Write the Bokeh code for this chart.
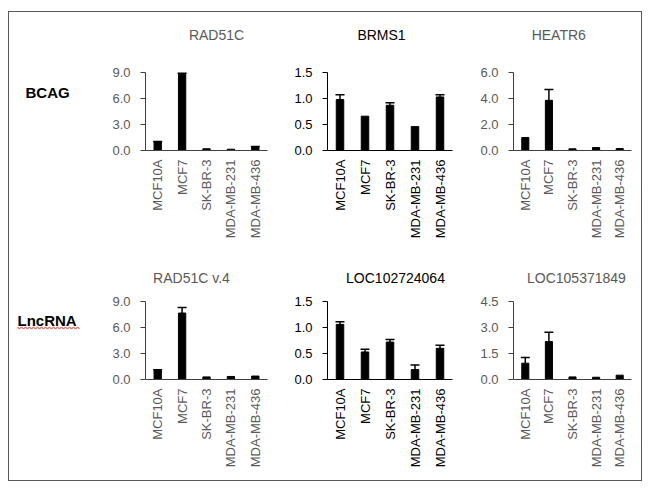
from bokeh.plotting import figure
from bokeh.layouts import row, column
from bokeh.models import (ColumnDataSource, FactorRange, Range1d, FixedTicker,
                          NumeralTickFormatter, Whisker, TeeHead)
from bokeh.core.properties import value
from bokeh.embed import file_html
from bokeh.resources import INLINE
import math

# ---------------- data ----------------
cells = ["MCF10A", "MCF7", "SK-BR-3", "MDA-MB-231", "MDA-MB-436"]

rad51c = [1.0, 8.8, 0.2, 0.15, 0.4]
rad51c_err = [0.05, 0.1, 0.0, 0.0, 0.05]

brms1 = [0.98, 0.66, 0.87, 0.46, 1.03]
brms1_err = [0.09, 0.0, 0.05, 0.0, 0.04]

heatr6 = [1.0, 3.86, 0.13, 0.23, 0.15]
heatr6_err = [0.0, 0.83, 0.0, 0.0, 0.0]

rad51c_v4 = [1.07, 7.67, 0.3, 0.35, 0.4]
rad51c_v4_err = [0.05, 0.63, 0.0, 0.0, 0.0]

loc102724064 = [1.06, 0.53, 0.72, 0.19, 0.6]
loc102724064_err = [0.05, 0.05, 0.05, 0.09, 0.06]

loc105371849 = [0.94, 2.19, 0.15, 0.13, 0.25]
loc105371849_err = [0.33, 0.54, 0.0, 0.0, 0.0]

titles = ["RAD51C", "BRMS1", "HEATR6", "RAD51C v.4", "LOC102724064", "LOC105371849"]
ticks_rad51c = [0, 3, 6, 9]
ticks_brms1 = [0, 0.5, 1.0, 1.5]
ticks_heatr6 = [0, 2, 4, 6]
ticks_rad51c_v4 = [0, 3, 6, 9]
ticks_loc102724064 = [0, 0.5, 1.0, 1.5]
ticks_loc105371849 = [0, 1.5, 3.0, 4.5]
row_labels = ["BCAG", "LncRNA"]

# ---------------- layout geometry (page pixels) ----------------
GRAY = "#595959"
DARK = "#000000"
FONT = "Liberation Sans"
LAB_W = 100

cols = [  # fig width, border left, border right, frame left (page x)
    dict(w=180, bl=36, br=22, fl=145),
    dict(w=188, bl=38, br=25, fl=327),
    dict(w=164, bl=34, br=10, fl=511),
]
rows_g = [  # row top (page y), fig height, border bottom, frame bottom (page y)
    dict(top=12, h=238, bb=100, fb=150),
    dict(top=250, h=230, bb=101, fb=379),
]
AX_H = 78  # pixel height of the value axis
title_pos = [(216, 34), (381, 34), (557, 34), (191, 277), (395, 277), (575, 277)]
label_pos = [(25, 92), (17, 320)]


def make_panel(idx, vals, errs, ticks, dark):
    c = cols[idx % 3]
    r = rows_g[idx // 3]
    ymax = ticks[-1]
    frame_h = r["h"] - r["bb"]
    yend = ymax * frame_h / AX_H
    fw = c["w"] - c["bl"] - c["br"]
    tc = DARK if dark else GRAY
    ac = DARK if dark else "#404040"
    p = figure(x_range=FactorRange(*cells), y_range=Range1d(0, yend),
               width=c["w"], height=r["h"],
               min_border_left=c["bl"], min_border_right=c["br"],
               min_border_top=0, min_border_bottom=r["bb"],
               output_backend="svg", toolbar_location=None, title=None)
    p.vbar(x=cells, top=vals, width=0.3, color="black")

    wx = [cells[i] for i in range(len(cells)) if errs[i] > 0]
    wl = [vals[i] for i in range(len(cells)) if errs[i] > 0]
    wu = [vals[i] + errs[i] for i in range(len(cells)) if errs[i] > 0]
    if wx:
        src = ColumnDataSource(dict(x=wx, lower=wl, upper=wu))
        wh = Whisker(base="x", lower="lower", upper="upper", source=src,
                     dimension="height", line_color="black", line_width=1.5,
                     upper_head=TeeHead(size=9, line_color="black", line_width=1.5),
                     lower_head=None)
        p.add_layout(wh)

    p.xgrid.visible = False
    p.ygrid.visible = False
    p.outline_line_color = None

    xa = p.xaxis[0]
    xa.axis_line_color = ac
    xa.major_tick_out = 0
    xa.major_tick_in = 0
    xa.minor_tick_line_color = None
    xa.major_label_orientation = math.pi / 2
    xa.major_label_standoff = 9
    xa.major_label_text_font = FONT
    xa.major_label_text_font_size = "13px"
    xa.major_label_text_color = tc

    ya = p.yaxis[0]
    ya.bounds = (0, ymax)
    ya.ticker = FixedTicker(ticks=ticks)
    ya.formatter = NumeralTickFormatter(format="0.0")
    ya.axis_line_color = ac
    ya.major_tick_line_color = ac
    ya.major_tick_out = 5
    ya.major_tick_in = 0
    ya.minor_tick_line_color = None
    ya.major_label_standoff = 10
    ya.major_label_text_font = FONT
    ya.major_label_text_font_size = "13px"
    ya.major_label_text_color = tc

    tpx, tpy = title_pos[idx]
    tx = (tpx - c["fl"]) / fw * len(cells)
    ty = (r["fb"] - tpy) / AX_H * ymax
    p.text(x=[tx], y=[ty], text=[titles[idx]], text_align="center",
           text_baseline="middle", text_font=value(FONT),
           text_font_size="14px", text_color=tc)
    return p


def make_label(ri):
    r = rows_g[ri]
    # frame spans row top .. frame bottom (same as the panels of the row)
    p = figure(x_range=Range1d(9, 9 + LAB_W), y_range=Range1d(r["fb"], r["top"]),
               width=LAB_W, height=r["h"], min_border_left=0, min_border_right=0,
               min_border_top=0, min_border_bottom=r["bb"],
               x_axis_type=None, y_axis_type=None,
               output_backend="svg", toolbar_location=None, title=None)
    p.xgrid.visible = False
    p.ygrid.visible = False
    p.outline_line_color = None
    lx, ly = label_pos[ri]
    p.text(x=[lx], y=[ly], text=[row_labels[ri]], text_align="left",
           text_baseline="middle", text_font=value(FONT), text_font_size="15px",
           text_font_style="bold", text_color="black")
    if ri == 1:
        # spell-check style wavy underline
        zx, zy = [], []
        px, k = 17.0, 0
        while px <= 80.5:
            zx.append(px)
            zy.append(327.5 + (1.1 if k % 2 else -1.1))
            px += 2.0
            k += 1
        p.line(zx, zy, line_color="#e03030", line_width=1)
    return p


lab1 = make_label(0)
lab2 = make_label(1)
f1 = make_panel(0, rad51c, rad51c_err, ticks_rad51c, False)
f2 = make_panel(1, brms1, brms1_err, ticks_brms1, True)
f3 = make_panel(2, heatr6, heatr6_err, ticks_heatr6, False)
f4 = make_panel(3, rad51c_v4, rad51c_v4_err, ticks_rad51c_v4, False)
f5 = make_panel(4, loc102724064, loc102724064_err, ticks_loc102724064, True)
f6 = make_panel(5, loc105371849, loc105371849_err, ticks_loc105371849, False)

layout = column(row(lab1, f1, f2, f3), row(lab2, f4, f5, f6),
                styles={"border": "1px solid #595959", "margin-top": "11px",
                        "margin-left": "8px"})

open("out.html", "w").write(file_html(layout, INLINE))
